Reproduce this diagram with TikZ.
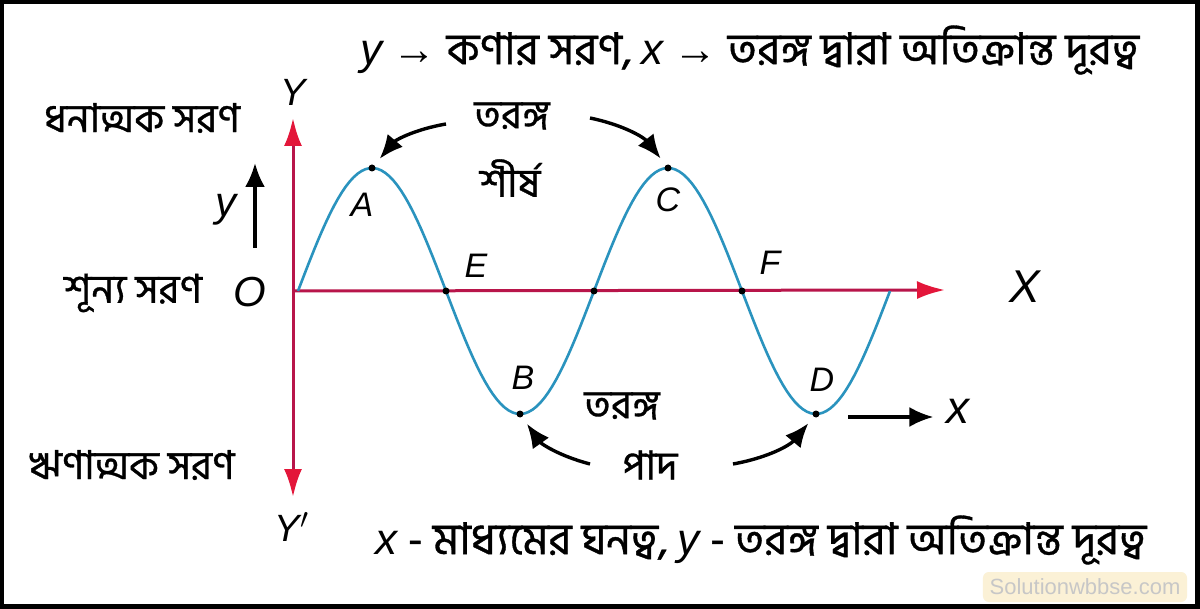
\documentclass[tikz,border=0pt]{standalone}
\usepackage{fontspec}
\setmainfont{Liberation Sans}
\newfontfamily\bn[Script=Bengali, FakeBold=0.8]{Hind Siliguri}
\usetikzlibrary{arrows.meta}
\definecolor{axisred}{HTML}{B8154A}
\definecolor{headred}{HTML}{E3163A}
\definecolor{wavecol}{HTML}{2A93BE}
\definecolor{markbg}{HTML}{FBF1D6}
\tikzset{
  axis/.style={axisred, line width=1.5pt},
  ptr/.style={line width=1.7pt, -{Latex[length=12pt,width=10pt]}},
  wave/.style={wavecol, line width=1.3pt},
  dot/.style={circle, fill=black, inner sep=0pt, minimum size=3.5pt},
  lbl/.style={font=\fontsize{17}{17}\selectfont\itshape},
  bntext/.style={font=\fontsize{20}{24}\selectfont\bn},
  bnline/.style={font=\fontsize{22}{26}\selectfont\bn},
}
\begin{document}
\begin{tikzpicture}[x=0.5pt, y=-0.5pt]
  \useasboundingbox (0,0) rectangle (1200,609);
  \fill[black] (0,0) rectangle (1200,609);
  \fill[white] (4,4) rectangle (1195,604);

  % axes
  \coordinate (O) at (293,291);
  \coordinate (Ytip) at (293,118);
  \coordinate (Ybot) at (293,497);
  \coordinate (Xtip) at (945,290);
  \draw[axis, {Latex[length=14pt,width=9pt,color=headred]}-{Latex[length=14pt,width=9pt,color=headred]}] (Ybot) -- (Ytip);
  \draw[axis, -{Latex[length=14pt,width=9pt,color=headred]}] (O) -- (Xtip);

  % wave
  \draw[wave] plot[domain=298:890, samples=150] (\x, {291-123*sin((\x-298)/296*360)});

  \node[dot] (A) at (372,168) {};
  \node[dot] (E) at (446,291) {};
  \node[dot] (B) at (520,414) {};
  \node[dot] (M) at (594,291) {};
  \node[dot] (C) at (668,168) {};
  \node[dot] (F) at (742,291) {};
  \node[dot] (D) at (816,414) {};

  \node[lbl] (labA) at (362,205) {A};
  \node[lbl] (labC) at (668,200) {C};
  \node[lbl] (labE) at (476,266) {E};
  \node[lbl] (labF) at (770,263) {F};
  \node[lbl] (labB) at (523,378) {B};
  \node[lbl] (labD) at (822,380) {D};
  \node[lbl, font=\fontsize{21}{21}\selectfont\itshape] (labO) at (250,292) {O};
  \node[lbl, font=\fontsize{19}{19}\selectfont\itshape] (labY) at (293,92) {Y};
  \node[lbl, font=\fontsize{19}{19}\selectfont\itshape] (labYp) at (292,527) {Y$'$};
  \node[lbl, font=\fontsize{23}{23}\selectfont\itshape] (labX) at (1025,287) {X};
  \node[lbl, font=\fontsize{23}{23}\selectfont\itshape] (labx) at (958,411) {x};
  \node[lbl, font=\fontsize{21}{21}\selectfont\itshape] (laby) at (226,210) {y};

  % side texts
  \node[bntext] (pos) at (142,118) {ধনাত্মক সরণ};
  \node[bntext] (zero) at (133,293) {শূন্য সরণ};
  \node[bntext] (neg) at (132,465) {ঋণাত্মক সরণ};
  \node[bntext] (crest1) at (512,116) {তরঙ্গ};
  \node[bntext] (crest2) at (510,178) {শীর্ষ};
  \node[bntext] (trough1) at (622,406) {তরঙ্গ};
  \node[bntext] (trough2) at (650,465) {পাদ};
  \node[bnline] (top) at (750,50) {{\rmfamily\itshape y} {\rmfamily\bfseries →} কণার সরণ, {\rmfamily\itshape x} {\rmfamily\bfseries →} তরঙ্গ দ্বারা অতিক্রান্ত দূরত্ব};
  \node[bnline] (bottom) at (761,540) {{\rmfamily\itshape x} - মাধ্যমের ঘনত্ব, {\rmfamily\itshape y} - তরঙ্গ দ্বারা অতিক্রান্ত দূরত্ব};

  % pointers
  \coordinate (c1) at (446,124);
  \coordinate (c2) at (590,118);
  \coordinate (t1) at (590,464);
  \coordinate (t2) at (733,464);
  \draw[ptr, shorten >=4pt] (c1) to[bend right=20] (A);
  \draw[ptr, shorten >=4pt] (c2) to[bend left=20] (C);
  \draw[ptr, shorten >=4pt] (t1) to[bend left=20] (B);
  \draw[ptr, shorten >=4pt] (t2) to[bend right=20] (D);

  \coordinate (xs) at (848,417);
  \draw[ptr, shorten >=3pt] (xs) -- (xs -| labx.west);
  \coordinate (ys) at (255,248);
  \coordinate (ye) at (255,163);
  \draw[ptr] (ys) -- (ye);

  \node[fill=markbg, rounded corners=3pt, text=black!22, font=\fontsize{11}{11}\selectfont,
        minimum width=100pt, minimum height=15pt] (mark) at (1085,587) {Solutionwbbse.com};
\end{tikzpicture}
\end{document}
